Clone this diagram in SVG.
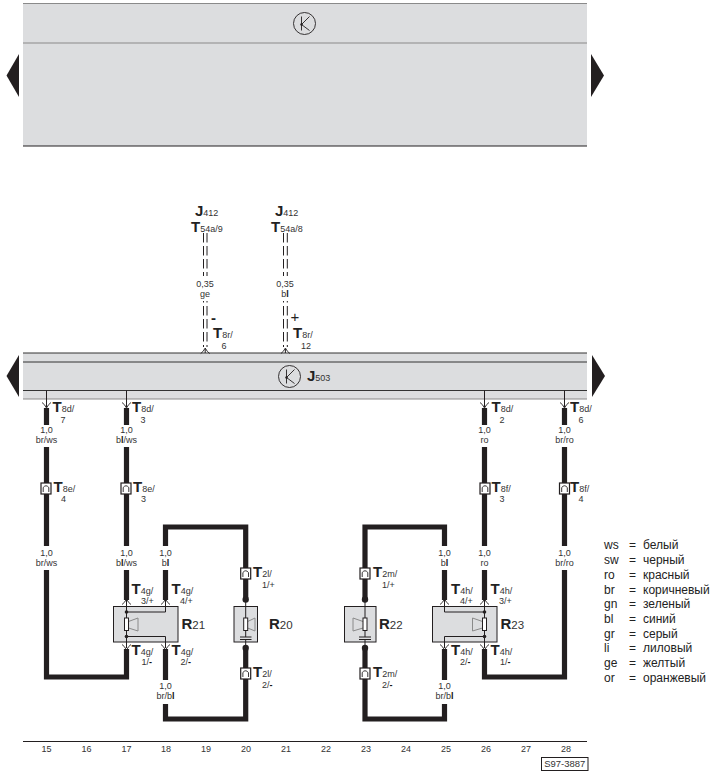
<svg xmlns="http://www.w3.org/2000/svg" xmlns:xlink="http://www.w3.org/1999/xlink" width="720" height="777" viewBox="0 0 720 777">
<style>
text{font-family:"Liberation Sans",Arial,sans-serif;fill:#333}
.s{font-size:9px}
.m{text-anchor:middle}
.T{font-size:15px;font-weight:bold;fill:#222}
.R{font-size:15px;font-weight:bold;fill:#222}
.sub{font-size:9px;font-weight:normal;fill:#333}
.rs{font-size:11.5px;font-weight:normal;fill:#333}
.leg{font-size:12px;fill:#222}
.b{font-weight:bold;fill:#111}
.wire{fill:none;stroke:#231f20;stroke-width:5.2;stroke-linejoin:miter}
.thin{fill:none;stroke:#231f20;stroke-width:1}
.dash{fill:none;stroke:#231f20;stroke-width:1;stroke-dasharray:9.5 3.5}
.band{fill:#dcdddf}
.line{stroke:#333;stroke-width:1;fill:none}
.box{fill:#dcdddf;stroke:#231f20;stroke-width:1}
.arrow{fill:#231f20}
.res{fill:#fff;stroke:#231f20;stroke-width:1}
.cone{fill:none;stroke:#8a8a8a;stroke-width:1}
.dot{fill:#231f20}
</style>
<defs>
<g id="conn"><rect x="-5" y="-5.5" width="10" height="11" fill="#fff" stroke="#231f20" stroke-width="1.2"/><path d="M-2.8,3.5V-1Q0,-4.5 2.8,-1V3.5" fill="none" stroke="#231f20" stroke-width="0.9"/></g>
<path id="pinUp" d="M-4.5,3.5Q-2,2 0,-2Q2,2 4.5,3.5" fill="none" stroke="#231f20" stroke-width="0.9"/>
<path id="pinDown" d="M-4.5,-3.5Q-2,-2 0,2Q2,-2 4.5,-3.5" fill="none" stroke="#231f20" stroke-width="0.9"/>
<g id="ksym"><circle r="11" fill="none" stroke="#231f20" stroke-width="0.9"/><path d="M-3,-7V7M5,-7L-3,1L5,7" fill="none" stroke="#231f20" stroke-width="0.9"/><circle cx="-3" cy="1" r="1.2" fill="#231f20"/></g>
</defs>

<g id="top-band">
<rect class="band" x="23" y="3" width="564" height="143"/>
<path d="M23,3.5H587M23,43H587" stroke="#8a8a8a" stroke-width="1.2" fill="none"/>
<path d="M23,146H587" stroke="#231f20" stroke-width="1" fill="none"/>
<use xlink:href="#ksym" href="#ksym" x="304.5" y="23.5"/>
<polygon class="arrow" points="19,54 6.5,75.5 19,97"/>
<polygon class="arrow" points="591,54 604,75.5 591,97"/>
</g>

<g id="J503">
<rect class="band" x="23" y="353" width="564" height="46"/>
<path class="line" d="M23,353H587M23,362H587M23,390.5H587"/>
<path d="M23,399H587" stroke="#8a8a8a" stroke-width="1.2" fill="none"/>
<use xlink:href="#ksym" href="#ksym" x="289.5" y="376.5"/>
<text x="307" y="381" class="T">J<tspan class="sub">503</tspan></text>
<polygon class="arrow" points="19,355 6.5,376 19,397"/>
<polygon class="arrow" points="592,355 605,376 592,397"/>
</g>

<g id="connectors">
<path class="dash" d="M203.5,233V276M207,233V276M283.5,233V276M287.3,233V276"/>
<path class="thin" d="M203.5,301v1.5M207,301v1.5M283.5,301v1.5M287.3,301v1.5" />
<path class="dash" d="M203.5,306V347M207,306V347M283.5,306V347M287.3,306V347"/>
<path class="thin" d="M205.2,349V353M285.4,349V353M46.5,390.5V407M126.5,390.5V407M484.5,390.5V407M564.5,390.5V407"/>
<use xlink:href="#pinUp" href="#pinUp" x="205.2" y="350"/>
<use xlink:href="#pinUp" href="#pinUp" x="285.4" y="350"/>
<use xlink:href="#pinDown" href="#pinDown" x="46.5" y="406"/>
<use xlink:href="#pinDown" href="#pinDown" x="126.5" y="406"/>
<use xlink:href="#pinDown" href="#pinDown" x="484.5" y="406"/>
<use xlink:href="#pinDown" href="#pinDown" x="564.5" y="406"/>
<path class="wire" d="M46.5,408V425M126.5,408V425M484.5,408V425M564.5,408V425"/>
<path class="wire" d="M46.5,447V546M126.5,447V546M484.5,447V546M564.5,447V546"/>
<path class="wire" d="M46.5,570V677H126.5V649"/>
<path class="wire" d="M126.5,570V600M165.5,570V600M444.5,570V600M484.5,570V600"/>
<path class="wire" d="M165.5,546V527H245.7V598"/>
<path class="wire" d="M165.5,649V680M165.5,704V719H245.7V650"/>
<path class="wire" d="M444.5,546V527H365V598"/>
<path class="wire" d="M444.5,649V680M444.5,704V719H365V650"/>
<path class="wire" d="M484.5,649V677H564.5V570"/>
<use xlink:href="#conn" href="#conn" x="46" y="488.5"/>
<use xlink:href="#conn" href="#conn" x="126" y="488.5"/>
<use xlink:href="#conn" href="#conn" x="485" y="488.5"/>
<use xlink:href="#conn" href="#conn" x="564.5" y="488.5"/>
<use xlink:href="#conn" href="#conn" x="245.7" y="573.5"/>
<use xlink:href="#conn" href="#conn" x="245.7" y="673.5"/>
<use xlink:href="#conn" href="#conn" x="365" y="573.5"/>
<use xlink:href="#conn" href="#conn" x="365" y="673.5"/>
<path class="thin" d="M126.5,600V606M165.5,600V606M126.5,642V648M165.5,642V648M444.5,600V606M484.5,600V606M444.5,642V648M484.5,642V648"/>
<use xlink:href="#pinUp" href="#pinUp" x="126.5" y="601"/>
<use xlink:href="#pinUp" href="#pinUp" x="165.5" y="601"/>
<use xlink:href="#pinUp" href="#pinUp" x="444.5" y="601"/>
<use xlink:href="#pinUp" href="#pinUp" x="484.5" y="601"/>
<use xlink:href="#pinDown" href="#pinDown" x="126.5" y="648"/>
<use xlink:href="#pinDown" href="#pinDown" x="165.5" y="648"/>
<use xlink:href="#pinDown" href="#pinDown" x="444.5" y="648"/>
<use xlink:href="#pinDown" href="#pinDown" x="484.5" y="648"/>
</g>

<g id="R21">
<rect class="box" x="113.5" y="606.5" width="64.5" height="35.5"/>
<path class="thin" d="M126.5,606V642M126.5,612H165.5V606M126.5,636.5H165.5V642"/>
<circle class="dot" cx="126.5" cy="612" r="1.8"/><circle class="dot" cx="126.5" cy="636.5" r="1.8"/>
<path class="cone" d="M128.5,621.5L138,618V631L128.5,628"/>
<rect class="res" x="124.5" y="618" width="4" height="12.5"/>
<text x="181.5" y="629" class="R">R<tspan class="rs">21</tspan></text>
</g>

<g id="R20">
<rect class="box" x="234" y="606.5" width="23.5" height="35.5"/>
<path class="thin" d="M245.7,601V618M245.7,630V637M245.7,639.5V648M240,637H251.5M240,639.5H251.5"/>
<circle class="dot" cx="245.7" cy="599.5" r="3.2"/><circle class="dot" cx="245.7" cy="648" r="3.2"/>
<path class="cone" d="M247.7,621.5L255,618V631L247.7,628"/>
<rect class="res" x="243.7" y="618" width="4" height="12.5"/>
<text x="269" y="629" class="R">R<tspan class="rs">20</tspan></text>
</g>

<g id="R22">
<rect class="box" x="344.5" y="606.5" width="31.5" height="35.5"/>
<path class="thin" d="M365,601V618M365,630V637M365,639.5V648M359,637H371M359,639.5H371"/>
<circle class="dot" cx="365" cy="599.5" r="3.2"/><circle class="dot" cx="365" cy="648" r="3.2"/>
<path class="cone" d="M363,621.5L353,618V631L363,628"/>
<rect class="res" x="363" y="618" width="4" height="12.5"/>
<text x="379" y="629" class="R">R<tspan class="rs">22</tspan></text>
</g>

<g id="R23">
<rect class="box" x="432.5" y="606.5" width="64.5" height="35.5"/>
<path class="thin" d="M484.5,606V642M484.5,612H444.5V606M484.5,636.5H444.5V642"/>
<circle class="dot" cx="484.5" cy="612" r="1.8"/><circle class="dot" cx="484.5" cy="636.5" r="1.8"/>
<path class="cone" d="M482.5,621.5L472.5,618V631L482.5,628"/>
<rect class="res" x="482.5" y="618" width="4" height="12.5"/>
<text x="500.5" y="629" class="R">R<tspan class="rs">23</tspan></text>
</g>

<g id="labels">
<text x="195" y="216" class="T">J<tspan class="sub">412</tspan></text>
<text x="275" y="216" class="T">J<tspan class="sub">412</tspan></text>
<text x="191" y="232" class="T">T<tspan class="sub">54a/9</tspan></text>
<text x="271" y="232" class="T">T<tspan class="sub">54a/8</tspan></text>
<text x="205" y="287" class="s m">0,35</text><text x="205" y="297" class="s m">ge</text>
<text x="285" y="287" class="s m">0,35</text><text x="285" y="297" class="s m">b<tspan class="b">l</tspan></text>
<text x="211" y="323" class="T">-</text>
<text x="290.5" y="322" class="T" style="font-weight:normal">+</text>
<text x="213" y="338" class="T">T<tspan class="sub">8r/</tspan></text><text x="224" y="349" class="s m">6</text>
<text x="293" y="338" class="T">T<tspan class="sub">8r/</tspan></text><text x="306" y="349" class="s m">12</text>

<text x="52.5" y="412" class="T">T<tspan class="sub">8d/</tspan></text><text x="63" y="422.5" class="s m">7</text>
<text x="132" y="412" class="T">T<tspan class="sub">8d/</tspan></text><text x="143" y="422.5" class="s m">3</text>
<text x="491.5" y="412" class="T">T<tspan class="sub">8d/</tspan></text><text x="502" y="422.5" class="s m">2</text>
<text x="570" y="412" class="T">T<tspan class="sub">8d/</tspan></text><text x="581" y="422.5" class="s m">6</text>

<text x="46.5" y="433" class="s m">1,0</text><text x="46.5" y="443" class="s m">br/ws</text>
<text x="126.5" y="433" class="s m">1,0</text><text x="126.5" y="443" class="s m">b<tspan class="b">l</tspan>/ws</text>
<text x="484.5" y="433" class="s m">1,0</text><text x="484.5" y="443" class="s m">ro</text>
<text x="564.5" y="433" class="s m">1,0</text><text x="564.5" y="443" class="s m">br/ro</text>

<text x="53.5" y="492" class="T">T<tspan class="sub">8e/</tspan></text><text x="63.5" y="502" class="s m">4</text>
<text x="133" y="492" class="T">T<tspan class="sub">8e/</tspan></text><text x="143.5" y="502" class="s m">3</text>
<text x="491.5" y="492" class="T">T<tspan class="sub">8f/</tspan></text><text x="502" y="502" class="s m">3</text>
<text x="570" y="492" class="T">T<tspan class="sub">8f/</tspan></text><text x="581" y="502" class="s m">4</text>

<text x="46.5" y="556" class="s m">1,0</text><text x="46.5" y="566" class="s m">br/ws</text>
<text x="126.5" y="556" class="s m">1,0</text><text x="126.5" y="566" class="s m">b<tspan class="b">l</tspan>/ws</text>
<text x="165.5" y="556" class="s m">1,0</text><text x="165.5" y="566" class="s m">b<tspan class="b">l</tspan></text>
<text x="444.5" y="556" class="s m">1,0</text><text x="444.5" y="566" class="s m">b<tspan class="b">l</tspan></text>
<text x="484.5" y="556" class="s m">1,0</text><text x="484.5" y="566" class="s m">ro</text>
<text x="564.5" y="556" class="s m">1,0</text><text x="564.5" y="566" class="s m">br/ro</text>

<text x="253" y="577" class="T">T<tspan class="sub">2l/</tspan></text><text x="262" y="588" class="s">1/+</text>
<text x="253" y="677" class="T">T<tspan class="sub">2l/</tspan></text><text x="262" y="688" class="s">2/<tspan class="b">-</tspan></text>
<text x="373" y="577" class="T">T<tspan class="sub">2m/</tspan></text><text x="382" y="588" class="s">1/+</text>
<text x="373" y="677" class="T">T<tspan class="sub">2m/</tspan></text><text x="382" y="688" class="s">2/<tspan class="b">-</tspan></text>

<text x="131.5" y="594" class="T">T<tspan class="sub">4g/</tspan></text><text x="141" y="604" class="s">3/+</text>
<text x="171.5" y="594" class="T">T<tspan class="sub">4g/</tspan></text><text x="180" y="604" class="s">4/+</text>
<text x="131.5" y="654.5" class="T">T<tspan class="sub">4g/</tspan></text><text x="141.5" y="664.5" class="s">1/<tspan class="b">-</tspan></text>
<text x="171.5" y="654.5" class="T">T<tspan class="sub">4g/</tspan></text><text x="180.5" y="664.5" class="s">2/<tspan class="b">-</tspan></text>
<text x="451" y="594" class="T">T<tspan class="sub">4h/</tspan></text><text x="460" y="604" class="s">4/+</text>
<text x="490.5" y="594" class="T">T<tspan class="sub">4h/</tspan></text><text x="499" y="604" class="s">3/+</text>
<text x="451" y="654.5" class="T">T<tspan class="sub">4h/</tspan></text><text x="460" y="664.5" class="s">2/<tspan class="b">-</tspan></text>
<text x="490.5" y="654.5" class="T">T<tspan class="sub">4h/</tspan></text><text x="500" y="664.5" class="s">1/<tspan class="b">-</tspan></text>

<text x="165.5" y="689" class="s m">1,0</text><text x="165.5" y="699" class="s m">br/b<tspan class="b">l</tspan></text>
<text x="444.5" y="689" class="s m">1,0</text><text x="444.5" y="699" class="s m">br/b<tspan class="b">l</tspan></text>
</g>

<g id="legend">
<text class="leg" x="604" y="549">ws</text><text class="leg" x="629" y="549">=</text><text class="leg" x="643" y="549">белый</text>
<text class="leg" x="604" y="564">sw</text><text class="leg" x="629" y="564">=</text><text class="leg" x="643" y="564">черный</text>
<text class="leg" x="604" y="579">ro</text><text class="leg" x="629" y="579">=</text><text class="leg" x="643" y="579">красный</text>
<text class="leg" x="604" y="593.5">br</text><text class="leg" x="629" y="593.5">=</text><text class="leg" x="643" y="593.5">коричневый</text>
<text class="leg" x="604" y="608">gn</text><text class="leg" x="629" y="608">=</text><text class="leg" x="643" y="608">зеленый</text>
<text class="leg" x="604" y="623">bl</text><text class="leg" x="629" y="623">=</text><text class="leg" x="643" y="623">синий</text>
<text class="leg" x="604" y="637.5">gr</text><text class="leg" x="629" y="637.5">=</text><text class="leg" x="643" y="637.5">серый</text>
<text class="leg" x="604" y="652">li</text><text class="leg" x="629" y="652">=</text><text class="leg" x="643" y="652">лиловый</text>
<text class="leg" x="604" y="667">ge</text><text class="leg" x="629" y="667">=</text><text class="leg" x="643" y="667">желтый</text>
<text class="leg" x="604" y="681.5">or</text><text class="leg" x="629" y="681.5">=</text><text class="leg" x="643" y="681.5">оранжевый</text>
</g>

<g id="footer">
<path d="M23,741.5H587" stroke="#231f20" stroke-width="1" fill="none"/>
<text class="s m" x="46.5" y="752">15</text><text class="s m" x="86.5" y="752">16</text><text class="s m" x="126.5" y="752">17</text><text class="s m" x="166" y="752">18</text><text class="s m" x="206" y="752">19</text><text class="s m" x="246" y="752">20</text><text class="s m" x="286" y="752">21</text><text class="s m" x="326" y="752">22</text><text class="s m" x="366" y="752">23</text><text class="s m" x="406" y="752">24</text><text class="s m" x="446" y="752">25</text><text class="s m" x="486" y="752">26</text><text class="s m" x="526" y="752">27</text><text class="s m" x="566" y="752">28</text>
<rect x="541.5" y="757.5" width="46.5" height="13" fill="#fff" stroke="#231f20" stroke-width="1"/>
<text x="564.7" y="767" class="s m" textLength="41" lengthAdjust="spacingAndGlyphs">S97-3887</text>
</g>
</svg>
